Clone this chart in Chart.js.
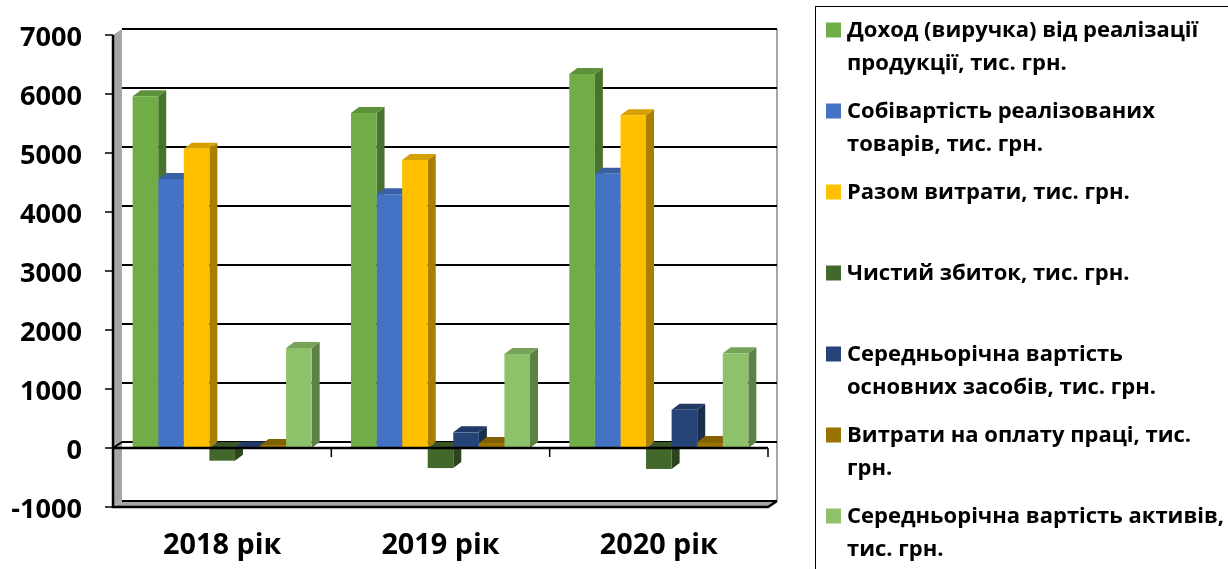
<!DOCTYPE html>
<html>
<head>
<meta charset="utf-8">
<script src="https://cdn.jsdelivr.net/npm/chart.js@4.4.0/dist/chart.umd.min.js"></script>
<style>
  html, body { margin: 0; padding: 0; background: #fff; }
  #box { width: 1228px; height: 569px; position: relative; }
</style>
</head>
<body>
<div id="box"><canvas id="grafico"></canvas></div>
<script>
// categories
const roky = ['2018 рік', '2019 рік', '2020 рік'];

// series values, тис. грн.
const dokhid = [5960, 5680, 6340];
const sobivartist = [4560, 4300, 4650];
const vytraty = [5070, 4880, 5640];
const zbytok = [-215, -340, -355];
const osnZasoby = [10, 265, 650];
const oplataPratsi = [50, 85, 100];
const aktyvy = [1695, 1595, 1605];

// legend names (split in lines as in the picture)
const nazvy = [
  ['Доход (виручка) від реалізації', 'продукції, тис. грн.'],
  ['Собівартість реалізованих', 'товарів, тис. грн.'],
  ['Разом витрати, тис. грн.'],
  ['Чистий збиток, тис. грн.'],
  ['Середньорічна вартість', 'основних засобів, тис. грн.'],
  ['Витрати на оплату праці, тис.', 'грн.'],
  ['Середньорічна вартість активів,', 'тис. грн.']
];

const kolory = ['#70AD47', '#4472C4', '#FFC000', '#43682B', '#264478', '#997300', '#8DC26A'];

const ryady = [dokhid, sobivartist, vytraty, zbytok, osnZasoby, oplataPratsi, aktyvy];

const FONT = '"Open Sans", Lato, sans-serif';

// pick a font size so a sample text gets the width seen in the picture
const mctx = document.createElement('canvas').getContext('2d');
function fitSize(text, width) {
  mctx.font = 'bold 100px ' + FONT;
  return Math.round(100 * width / mctx.measureText(text).width * 10) / 10;
}
const axisSize = fitSize('7000', 62);
const catSize = fitSize('2018 рік', 118);
const legendSize = fitSize(nazvy[0][0], 352);

function shade(hex, k) {
  const n = parseInt(hex.slice(1), 16);
  const r = Math.round(((n >> 16) & 255) * k);
  const g = Math.round(((n >> 8) & 255) * k);
  const b = Math.round((n & 255) * k);
  return `rgb(${r},${g},${b})`;
}

function poly(ctx, pts, fill) {
  ctx.beginPath();
  ctx.moveTo(pts[0][0], pts[0][1]);
  for (let i = 1; i < pts.length; i++) ctx.lineTo(pts[i][0], pts[i][1]);
  ctx.closePath();
  ctx.fillStyle = fill;
  ctx.fill();
}

// depth of walls and bars
const WX = 9, WY = -6;
const BX = 8, BY = -6;

const box3d = {
  id: 'box3d',
  beforeDatasetsDraw(chart) {
    const ctx = chart.ctx;
    const a = chart.chartArea;
    const ys = chart.scales.y;
    ctx.save();

    // left wall
    poly(ctx, [[a.left, a.top], [a.left + WX, a.top + WY], [a.left + WX, a.bottom + WY], [a.left, a.bottom]], '#A6A6A6');
    // floor
    poly(ctx, [[a.left, a.bottom], [a.left + WX, a.bottom + WY], [a.right + WX, a.bottom + WY], [a.right, a.bottom]], '#A6A6A6');

    // right edge of back wall
    ctx.strokeStyle = '#A6A6A6';
    ctx.lineWidth = 2;
    ctx.beginPath();
    ctx.moveTo(a.right + WX, a.top + WY);
    ctx.lineTo(a.right + WX, a.bottom + WY);
    ctx.stroke();

    // gridlines on back wall + ticks on the left
    ctx.strokeStyle = '#000';
    for (let v = ys.min; v <= ys.max; v += 1000) {
      const y = ys.getPixelForValue(v);
      ctx.lineWidth = 2;
      ctx.beginPath();
      ctx.moveTo(a.left + WX, y + WY);
      ctx.lineTo(a.right + WX, y + WY);
      ctx.stroke();
      ctx.lineWidth = 1.5;
      ctx.beginPath();
      ctx.moveTo(a.left - 8, y);
      ctx.lineTo(a.left, y);
      ctx.stroke();
    }
    // zero plane edge on the left wall
    const y0 = ys.getPixelForValue(0);
    ctx.lineWidth = 2;
    ctx.beginPath();
    ctx.moveTo(a.left, y0);
    ctx.lineTo(a.left + WX, y0 + WY);
    ctx.stroke();

    // left axis line and floor front edge
    ctx.lineWidth = 2.5;
    ctx.beginPath();
    ctx.moveTo(a.left, a.top);
    ctx.lineTo(a.left, a.bottom);
    ctx.lineTo(a.right, a.bottom);
    ctx.lineTo(a.right + WX, a.bottom + WY);
    ctx.stroke();

    // bar sides and tops, left to right inside every category
    const metas = chart.data.datasets.map((d, i) => chart.getDatasetMeta(i));
    for (let c = 0; c < roky.length; c++) {
      metas.forEach((m, i) => {
        const el = m.data[c];
        const l = el.x - el.width / 2, r = el.x + el.width / 2;
        const top = Math.min(el.y, el.base), bot = Math.max(el.y, el.base);
        const col = kolory[i];
        poly(ctx, [[r, top], [r + BX, top + BY], [r + BX, bot + BY], [r, bot]], shade(col, 0.66));
        poly(ctx, [[l, top], [l + BX, top + BY], [r + BX, top + BY], [r, top]], shade(col, 0.84));
      });
    }
    ctx.restore();
  },
  afterDatasetsDraw(chart) {
    const ctx = chart.ctx;
    const a = chart.chartArea;
    const y0 = chart.scales.y.getPixelForValue(0);
    ctx.save();
    ctx.strokeStyle = '#000';
    ctx.lineWidth = 2.5;
    ctx.beginPath();
    ctx.moveTo(a.left, y0);
    ctx.lineTo(a.right, y0);
    ctx.stroke();
    ctx.lineWidth = 1.5;
    const step = (a.right - a.left) / roky.length;
    for (let i = 1; i <= roky.length; i++) {
      const x = a.left + step * i;
      ctx.beginPath();
      ctx.moveTo(x, y0);
      ctx.lineTo(x, y0 + 9);
      ctx.stroke();
    }
    ctx.restore();
  },
  afterDraw(chart) {
    // legend
    const ctx = chart.ctx;
    ctx.save();
    ctx.strokeStyle = '#000';
    ctx.lineWidth = 1;
    ctx.strokeRect(815.5, 6.5, 500, 600);
    ctx.font = 'bold ' + legendSize + 'px ' + FONT;
    ctx.textBaseline = 'middle';
    nazvy.forEach((lines, i) => {
      const cy = 30 + i * 81;
      ctx.fillStyle = kolory[i];
      ctx.fillRect(826, cy - 7.5, 15, 15);
      ctx.fillStyle = '#000';
      lines.forEach((t, k) => ctx.fillText(t, 847, cy + 1 + k * 33));
    });
    ctx.restore();
  }
};

new Chart(document.getElementById('grafico'), {
  type: 'bar',
  data: {
    labels: roky,
    datasets: ryady.map((d, i) => ({
      label: nazvy[i].join(' '),
      data: d,
      backgroundColor: kolory[i],
      borderWidth: 0,
      categoryPercentage: 0.82,
      barPercentage: 1
    }))
  },
  options: {
    responsive: true,
    maintainAspectRatio: false,
    animation: false,
    layout: { padding: { left: 0, right: 460, top: 35, bottom: 0 } },
    plugins: {
      legend: { display: false },
      tooltip: { enabled: false }
    },
    scales: {
      x: {
        offset: true,
        grid: { display: false, drawTicks: false },
        border: { display: false },
        ticks: { color: '#000', font: { family: FONT, size: catSize, weight: 'bold' }, padding: 22 },
        afterFit(s) { s.height = 62; s.paddingLeft = 0; s.paddingRight = 0; }
      },
      y: {
        min: -1000,
        max: 7000,
        grid: { display: false, drawTicks: false },
        border: { display: false },
        ticks: {
          stepSize: 1000,
          color: '#000',
          labelOffset: 3,
          padding: 31,
          font: { family: FONT, size: axisSize, weight: 'bold' },
          callback: (v) => String(v)
        },
        afterFit(s) { s.width = 113; s.paddingTop = 0; s.paddingBottom = 0; }
      }
    }
  },
  plugins: [box3d]
});
</script>
</body>
</html>
